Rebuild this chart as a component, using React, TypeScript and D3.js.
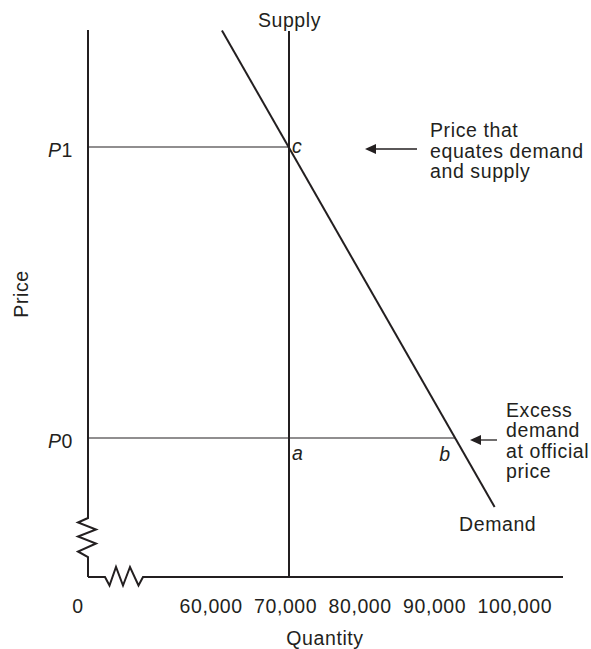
import React from "react";
import * as d3 from "d3";

// ---- data ----
const quantityTicks = [60000, 70000, 80000, 90000, 100000];
const priceLevels = [
  { label: "P", sub: "0", price: 4 },
  { label: "P", sub: "1", price: 8 },
];
const supplyQty = 70000;
const demandCurve = [
  { price: 9.6, qty: 61000 },
  { price: 3.05, qty: 97600 },
];
const pointC = { name: "c", price: 8, qty: 70000 };
const pointA = { name: "a", price: 4, qty: 70000 };
const pointB = { name: "b", price: 4, qty: 92300 };
const annotationTop = ["Price that", "equates demand", "and supply"];
const annotationBottom = ["Excess", "demand", "at official", "price"];

const W = 591;
const H = 649;
const INK = "#231f20";
const FONT = "'Liberation Sans', Arial, Helvetica, sans-serif";

export default function App() {
  const x = d3.scaleLinear().domain([70000, 80000]).range([289, 363.5]);
  const y = d3.scaleLinear().domain([4, 8]).range([438, 147]);

  const axisX = 88;
  const axisTop = 30;
  const axisBottom = 577;
  const axisRight = 563;

  // y-axis with break
  const yBreak = d3.line()([
    [axisX, axisTop],
    [axisX, 518],
    [78, 522.5],
    [96, 529.5],
    [78, 536.5],
    [96, 543.5],
    [78, 551.5],
    [axisX, 557],
    [axisX, axisBottom],
  ]);
  const xBreak = d3.line()([
    [axisX, axisBottom],
    [105, axisBottom],
    [109.5, 585.5],
    [116, 567],
    [123, 585.5],
    [130, 567],
    [138.5, 585.5],
    [143, axisBottom],
    [axisRight, axisBottom],
  ]);

  const demandLine = d3
    .line<{ price: number; qty: number }>()
    .x((d) => x(d.qty))
    .y((d) => y(d.price))(demandCurve);

  const textStyle: React.CSSProperties = {
    fontFamily: FONT,
    fontSize: 19.5,
    letterSpacing: 0.6,
    fill: INK,
  };

  const arrow = (x1: number, x2: number, yy: number) => (
    <g>
      <line x1={x1} x2={x2 + 9} y1={yy} y2={yy} stroke={INK} strokeWidth={1.3} />
      <path d={`M${x2},${yy} L${x2 + 11},${yy - 5} L${x2 + 11},${yy + 5} Z`} fill={INK} />
    </g>
  );

  return (
    <svg
      width={W}
      height={H}
      style={{ position: "absolute", left: 0, top: 0, background: "#fff" }}
    >
      {/* price level guides */}
      <line x1={axisX} x2={x(pointC.qty)} y1={y(pointC.price)} y2={y(pointC.price)} stroke={INK} strokeWidth={1.2} />
      <line x1={axisX} x2={x(pointB.qty)} y1={y(pointB.price)} y2={y(pointB.price)} stroke={INK} strokeWidth={1.2} />

      {/* axes */}
      <path d={yBreak ?? ""} fill="none" stroke={INK} strokeWidth={2} strokeLinejoin="miter" />
      <path d={xBreak ?? ""} fill="none" stroke={INK} strokeWidth={2} strokeLinejoin="miter" />

      {/* supply */}
      <line x1={x(supplyQty)} x2={x(supplyQty)} y1={31} y2={axisBottom} stroke={INK} strokeWidth={2} />
      <text x={x(supplyQty) + 0.5} y={27} textAnchor="middle" style={textStyle}>Supply</text>

      {/* demand */}
      <path d={demandLine ?? ""} fill="none" stroke={INK} strokeWidth={2} />
      <text x={459} y={531} style={textStyle}>Demand</text>

      {/* price labels */}
      {priceLevels.map((p) => (
        <text key={p.sub} x={73} y={y(p.price) + 9.5} textAnchor="end" style={textStyle}>
          <tspan fontStyle="italic">{p.label}</tspan>
          <tspan>{p.sub}</tspan>
        </text>
      ))}

      {/* point labels */}
      <text x={x(pointC.qty) + 3} y={y(pointC.price) + 6} style={{ ...textStyle, fontStyle: "italic" }}>{pointC.name}</text>
      <text x={x(pointA.qty) + 3} y={y(pointA.price) + 22} style={{ ...textStyle, fontStyle: "italic" }}>{pointA.name}</text>
      <text x={x(pointB.qty) - 16} y={y(pointB.price) + 23} style={{ ...textStyle, fontStyle: "italic" }}>{pointB.name}</text>

      {/* annotations */}
      {arrow(417, 365, y(pointC.price) + 2)}
      <text x={430} y={137} style={textStyle}>
        {annotationTop.map((t, i) => (
          <tspan key={i} x={430} dy={i === 0 ? 0 : 20.5}>{t}</tspan>
        ))}
      </text>
      {arrow(497, 470, y(pointB.price) + 2)}
      <text x={506} y={417} style={textStyle}>
        {annotationBottom.map((t, i) => (
          <tspan key={i} x={506} dy={i === 0 ? 0 : 20.3}>{t}</tspan>
        ))}
      </text>

      {/* x tick labels */}
      <text x={78} y={613} textAnchor="middle" style={textStyle}>0</text>
      {quantityTicks.map((q) => (
        <text key={q} x={x(q) - 35} y={613} style={textStyle}>
          {d3.format(",")(q)}
        </text>
      ))}

      {/* axis titles */}
      <text x={325} y={645} textAnchor="middle" style={textStyle}>Quantity</text>
      <text transform="translate(28,294) rotate(-90)" textAnchor="middle" style={textStyle}>Price</text>
    </svg>
  );
}
